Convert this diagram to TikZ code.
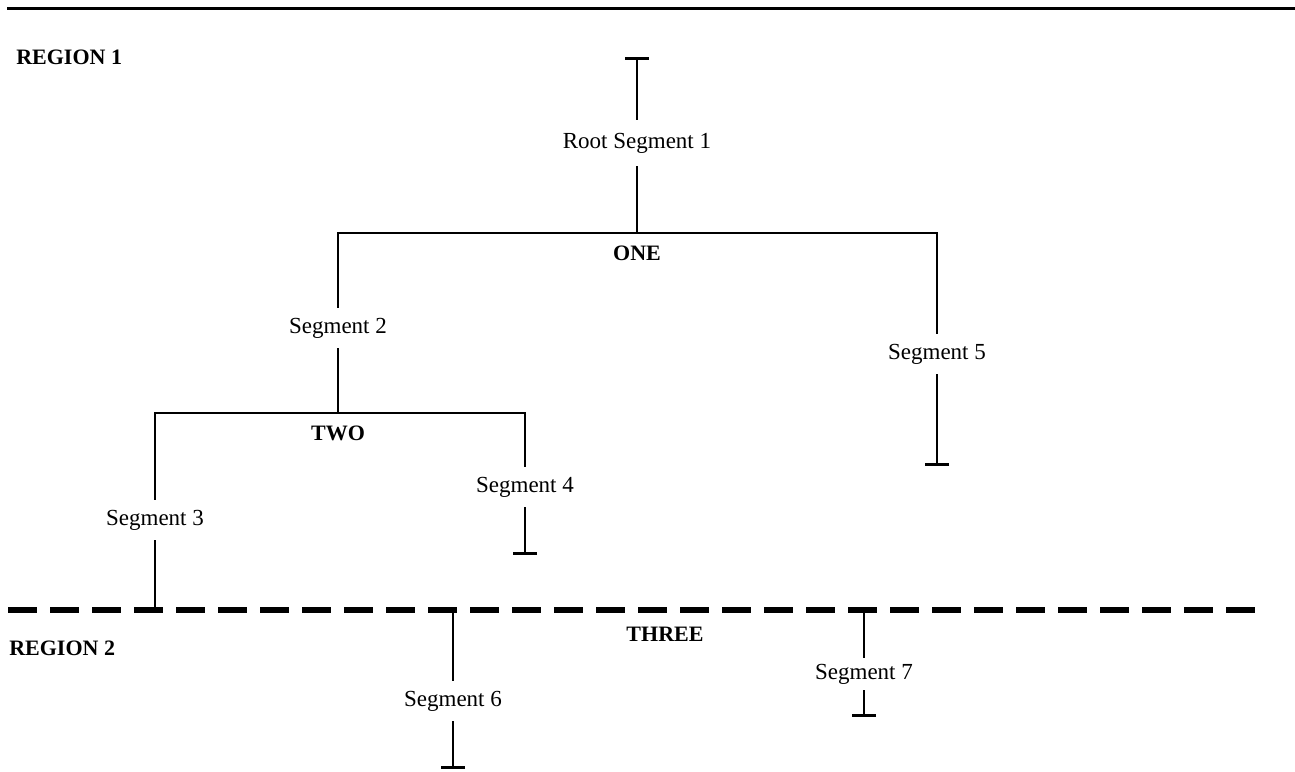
\documentclass[tikz,border=0pt]{standalone}
\usepackage{fontspec}
\setmainfont{Liberation Serif}
\usetikzlibrary{arrows.meta}
\begin{document}
\begin{tikzpicture}[x=0.5pt, y=-0.5pt, line width=1.3pt,
    seglabel/.style={inner sep=0pt, minimum height=19pt, font=\fontsize{11.5}{13}\selectfont},
    tierlabel/.style={inner sep=0pt, font=\fontsize{11}{12}\selectfont\bfseries},
    tbar/.style={arrows={Bar[width=12pt]-}},
    boundary/.style={line width=2.6pt, dash pattern=on 14.5pt off 6.5pt}]
  \useasboundingbox (0,0) rectangle (1295,771);

  % Nodes
  \node[tierlabel, anchor=west] at (15, 57) (reg1) {REGION 1};
  \node[tierlabel, anchor=west] at (8, 648) (reg2) {REGION 2};
  \node[seglabel, minimum height=22pt] at (637, 143) (root) {Root Segment 1};
  \node[seglabel] at (338, 328) (seg2) {Segment 2};
  \node[seglabel] at (155, 520) (seg3) {Segment 3};
  \node[seglabel] at (525, 487) (seg4) {Segment 4};
  \node[seglabel] at (937, 354) (seg5) {Segment 5};
  \node[seglabel] at (453, 701) (seg6) {Segment 6};
  \node[seglabel, minimum height=15pt] at (864, 674) (seg7) {Segment 7};
  \node[tierlabel] at (637, 253) (one) {ONE};
  \node[tierlabel] at (338, 433) (two) {TWO};
  \node[tierlabel] at (665, 634) (three) {THREE};

  % Ends and joints
  \coordinate (rootEnd) at (637, 57);
  \coordinate (oneJoint) at (637, 233);
  \coordinate (twoJoint) at (338, 413);
  \coordinate (seg4End) at (525, 555);
  \coordinate (seg5End) at (937, 466);
  \coordinate (seg3Cut) at (155, 610);
  \coordinate (seg6Cut) at (453, 610);
  \coordinate (seg6End) at (453, 769);
  \coordinate (seg7Cut) at (864, 610);
  \coordinate (seg7End) at (864, 717);
  \coordinate (topL) at (7, 8);
  \coordinate (topR) at (1295, 8);
  \coordinate (cutL) at (8, 610);
  \coordinate (cutR) at (1258, 610);

  % Frame
  \draw[line width=1.5pt] (topL) -- (topR);
  \draw[boundary] (cutL) -- (cutR);

  % Tree
  \draw[tbar] (rootEnd) -- (root);
  \draw (root) -- (oneJoint);
  \draw (seg2) |- (oneJoint) -| (seg5);
  \draw[tbar] (seg5End) -- (seg5);
  \draw (seg2) -- (twoJoint);
  \draw (seg3) |- (twoJoint) -| (seg4);
  \draw[tbar] (seg4End) -- (seg4);
  \draw (seg3) -- (seg3Cut);
  \draw (seg6Cut) -- (seg6);
  \draw[tbar] (seg6End) -- (seg6);
  \draw (seg7Cut) -- (seg7);
  \draw[tbar] (seg7End) -- (seg7);
\end{tikzpicture}
\end{document}
